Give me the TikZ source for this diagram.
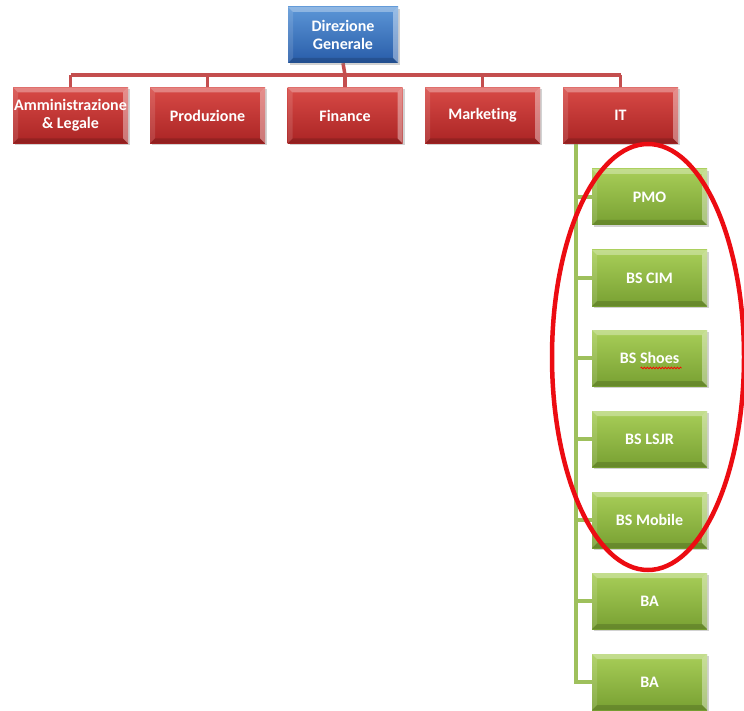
\documentclass[tikz,border=0pt]{standalone}
\usepackage{fontspec}
\setmainfont{Carlito}[Ligatures={NoCommon}]
\usetikzlibrary{shadows,calc,backgrounds,decorations.pathmorphing}

\definecolor{bluetop}{RGB}{92,150,215}
\definecolor{bluebot}{RGB}{40,92,168}
\definecolor{redtop}{RGB}{216,74,70}
\definecolor{redbot}{RGB}{170,36,36}
\definecolor{greentop}{RGB}{168,206,88}
\definecolor{greenbot}{RGB}{120,160,50}
\definecolor{redline}{RGB}{196,78,78}
\definecolor{greenline}{RGB}{158,192,92}
\definecolor{ringred}{RGB}{236,12,18}

\tikzset{
  unitbox/.style={minimum width=115pt, minimum height=56pt, inner sep=0pt,
    font=\fontsize{16}{18}\selectfont\bfseries, text=white, align=center,
    drop shadow={opacity=0.35, shadow xshift=2pt, shadow yshift=-2pt},
    path picture={
      \fill[white,opacity=0.32] let \p1=(path picture bounding box.north west),
        \p2=(path picture bounding box.south east) in
        (\x1,\y1) -- (\x2,\y1) -- (\x2-5pt,\y1-5pt) -- (\x1+5pt,\y1-5pt) -- cycle;
      \fill[white,opacity=0.38] let \p1=(path picture bounding box.north west),
        \p2=(path picture bounding box.south east) in
        (\x2,\y1) -- (\x2,\y2) -- (\x2-5pt,\y2+5pt) -- (\x2-5pt,\y1-5pt) -- cycle;
      \fill[white,opacity=0.12] let \p1=(path picture bounding box.north west),
        \p2=(path picture bounding box.south east) in
        (\x1,\y1) -- (\x1+5pt,\y1-5pt) -- (\x1+5pt,\y2+5pt) -- (\x1,\y2) -- cycle;
      \fill[black,opacity=0.15] let \p1=(path picture bounding box.north west),
        \p2=(path picture bounding box.south east) in
        (\x1,\y2) -- (\x1+5pt,\y2+5pt) -- (\x2-5pt,\y2+5pt) -- (\x2,\y2) -- cycle;
    }},
  headbox/.style={unitbox, top color=bluetop, bottom color=bluebot},
  deptbox/.style={unitbox, top color=redtop, bottom color=redbot},
  teambox/.style={unitbox, top color=greentop, bottom color=greenbot},
  redlink/.style={draw=redline, line width=3.5pt},
  greenlink/.style={draw=greenline, line width=4pt},
  spellmark/.style={draw=red, line width=0.7pt,
    decorate, decoration={snake, amplitude=0.9pt, segment length=3pt}},
  ring/.style={draw=ringred, line width=4.5pt},
}

\begin{document}
\begin{tikzpicture}[x=1pt, y=-1pt]
  \useasboundingbox (0,0) rectangle (744,711);

  % boxes
  \node[headbox, minimum width=110pt] (dg) at (343,35) {Direzione\\Generale};

  \node[deptbox] (amm)  at (70.5,115.5)  {Amministrazione\\\& Legale};
  \node[deptbox] (prod) at (207.5,115.5) {Produzione};
  \node[deptbox] (fin)  at (345,115.5)   {Finance};
  \node[deptbox] (mkt)  at (482.5,115.5) {Marketing};
  \node[deptbox] (it)   at (620.5,115.5) {IT};

  \node[teambox] (pmo)    at (649.5,197) {PMO};
  \node[teambox] (cim)    at (649.5,278) {BS CIM};
  \node[teambox] (shoes)  at (649.5,358) {BS Shoes};
  \node[teambox] (lsjr)   at (649.5,439) {BS LSJR};
  \node[teambox] (mobile) at (649.5,520) {BS Mobile};
  \node[teambox] (ba1)    at (649.5,601) {BA};
  \node[teambox] (ba2)    at (649.5,682) {BA};

  % spelling mark under "Shoes"
  \draw[spellmark] ($(shoes.center)+(-9,10)$) -- ($(shoes.center)+(32,10)$);

  % tree lines behind the boxes
  \begin{scope}[on background layer]
    \fill[white] (0,0) rectangle (744,711);
    \coordinate (bar) at (345,75);
    \coordinate (trunk) at (576,140);
    \draw[redlink] (dg.south) -- (bar);
    \draw[redlink] (amm.north |- bar) -- (it.north |- bar);
    \foreach \d in {amm,prod,fin,mkt,it}
      \draw[redlink] (\d.north |- bar) -- (\d.north);
    \draw[greenlink] (trunk) |- (ba2.west);
    \foreach \t in {pmo,cim,shoes,lsjr,mobile,ba1}
      \draw[greenlink] (trunk |- \t.west) -- (\t.west);
  \end{scope}

  % highlight ring around the business units
  \draw[ring] (648,357) ellipse [x radius=96, y radius=213];
\end{tikzpicture}
\end{document}
